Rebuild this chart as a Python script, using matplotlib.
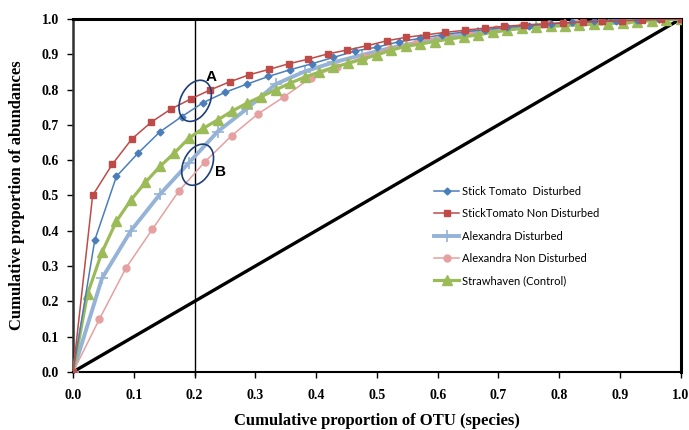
import numpy as np
import matplotlib
matplotlib.use("Agg")
import matplotlib.pyplot as plt
from matplotlib.patches import Ellipse

# ---- data ----
st_dist_y = [0, 0.373, 0.554, 0.62, 0.68, 0.723, 0.763, 0.792, 0.815, 0.837, 0.856,
             0.873, 0.891, 0.909, 0.92, 0.935, 0.945, 0.955, 0.963, 0.97, 0.976,
             0.981, 0.986, 0.99, 0.993, 0.995, 0.997, 0.999, 1.0]
st_nondist_y = [0, 0.50, 0.588, 0.66, 0.708, 0.745, 0.773, 0.799, 0.822, 0.842, 0.857,
                0.873, 0.886, 0.901, 0.912, 0.924, 0.938, 0.948, 0.955, 0.962, 0.968,
                0.974, 0.979, 0.983, 0.986, 0.989, 0.991, 0.993, 0.995, 0.997, 0.999, 1.0]
alex_dist_y = [0, 0.265, 0.40, 0.503, 0.592, 0.681, 0.745, 0.815, 0.851, 0.877, 0.898,
               0.918, 0.935, 0.948, 0.96, 0.97, 0.978, 0.985, 0.99, 0.995, 0.998, 1.0]
alex_nondist_y = [0, 0.15, 0.294, 0.404, 0.512, 0.596, 0.669, 0.731, 0.78, 0.833, 0.865,
                  0.893, 0.915, 0.935, 0.952, 0.963, 0.972, 0.979, 0.985, 0.99, 0.994,
                  0.997, 0.999, 1.0]
straw_y = [0, 0.221, 0.339, 0.427, 0.487, 0.537, 0.582, 0.62, 0.662, 0.69, 0.714,
           0.739, 0.761, 0.78, 0.799, 0.818, 0.835, 0.849, 0.863, 0.874, 0.886,
           0.898, 0.912, 0.922, 0.929, 0.936, 0.943, 0.949, 0.955, 0.962, 0.968,
           0.975, 0.977, 0.979, 0.981, 0.983, 0.985, 0.987, 0.989, 0.992, 0.995,
           0.998, 1.0]
labels = ["Stick Tomato  Disturbed", "StickTomato Non Disturbed", "Alexandra Disturbed",
          "Alexandra Non Disturbed", "Strawhaven (Control)"]
ticks = [0.0, 0.1, 0.2, 0.3, 0.4, 0.5, 0.6, 0.7, 0.8, 0.9, 1.0]
tick_labels = ["0.0", "0.1", "0.2", "0.3", "0.4", "0.5", "0.6", "0.7", "0.8", "0.9", "1.0"]


def xs(y):
    n = len(y) - 1
    return np.arange(n + 1) / n


fig = plt.figure(figsize=(6.89, 4.30), dpi=100)
ax = fig.add_axes([0.106, 0.135, 0.882, 0.821])

# reference diagonal and vertical marker
ax.plot([0, 1], [0, 1], color="black", lw=2.4, zorder=2)
ax.plot([0.2, 0.2], [-0.01, 1], color="black", lw=1.0, zorder=2, clip_on=False)

ax.plot(xs(st_dist_y), st_dist_y, color="#4A7EBB", lw=1.1, marker="D", ms=3.5,
        label=labels[0], zorder=4)
ax.plot(xs(st_nondist_y), st_nondist_y, color="#BE4B48", lw=1.1, marker="s", ms=5,
        label=labels[1], zorder=4)
ax.plot(xs(alex_dist_y), alex_dist_y, color="#95B3D7", lw=2.8, marker="+", ms=8,
        mew=1.2, label=labels[2], zorder=3)
ax.plot(xs(alex_nondist_y), alex_nondist_y, color="#E6A0A0", lw=1.1, marker="o", ms=5,
        label=labels[3], zorder=3)
ax.plot(xs(straw_y), straw_y, color="#9BBB59", lw=2.3, marker="^", ms=7,
        label=labels[4], zorder=3)

# annotations
ecol = "#1F3F7A"
ax.add_patch(Ellipse((0.201, 0.768), 0.05, 0.118, angle=-10, fill=False,
                     edgecolor=ecol, lw=1.2, zorder=5))
ax.add_patch(Ellipse((0.205, 0.587), 0.049, 0.118, angle=-10, fill=False,
                     edgecolor=ecol, lw=1.2, zorder=5))
ax.text(0.227, 0.836, "A", fontsize=11, fontweight="bold", ha="center", va="center",
        family="Liberation Sans")
ax.text(0.243, 0.567, "B", fontsize=11, fontweight="bold", ha="center", va="center",
        family="Liberation Sans")

ax.set_xlim(0, 1)
ax.set_ylim(0, 1)
ax.set_xticks(ticks)
ax.set_xticklabels(tick_labels)
ax.set_yticks(ticks)
ax.set_yticklabels(tick_labels)
for lab in ax.get_xticklabels() + ax.get_yticklabels():
    lab.set_family("Liberation Serif")
    lab.set_fontweight("bold")
    lab.set_fontsize(10)
ax.tick_params(axis="both", length=4, width=1, direction="out", pad=6)
ax.tick_params(axis="x", pad=8)

for side in ["top", "right"]:
    ax.spines[side].set_linewidth(2.2)
    ax.spines[side].set_color("black")
ax.spines["left"].set_linewidth(1.8)
ax.spines["left"].set_color("#303030")
ax.spines["bottom"].set_linewidth(1.5)
ax.spines["bottom"].set_color("black")

ax.set_xlabel("Cumulative proportion of OTU (species)", fontsize=12, fontweight="bold",
              family="Liberation Serif", labelpad=8)
ax.set_ylabel("Cumulative proportion of abundances", fontsize=12, fontweight="bold",
              family="Liberation Serif", labelpad=12)

leg = ax.legend(loc="upper left", bbox_to_anchor=(0.578, 0.555), frameon=False,
                prop={"family": "Lato", "size": 8}, handlelength=2.25,
                labelspacing=1.02, handletextpad=0.2)

fig.savefig("out.png", dpi=100)
